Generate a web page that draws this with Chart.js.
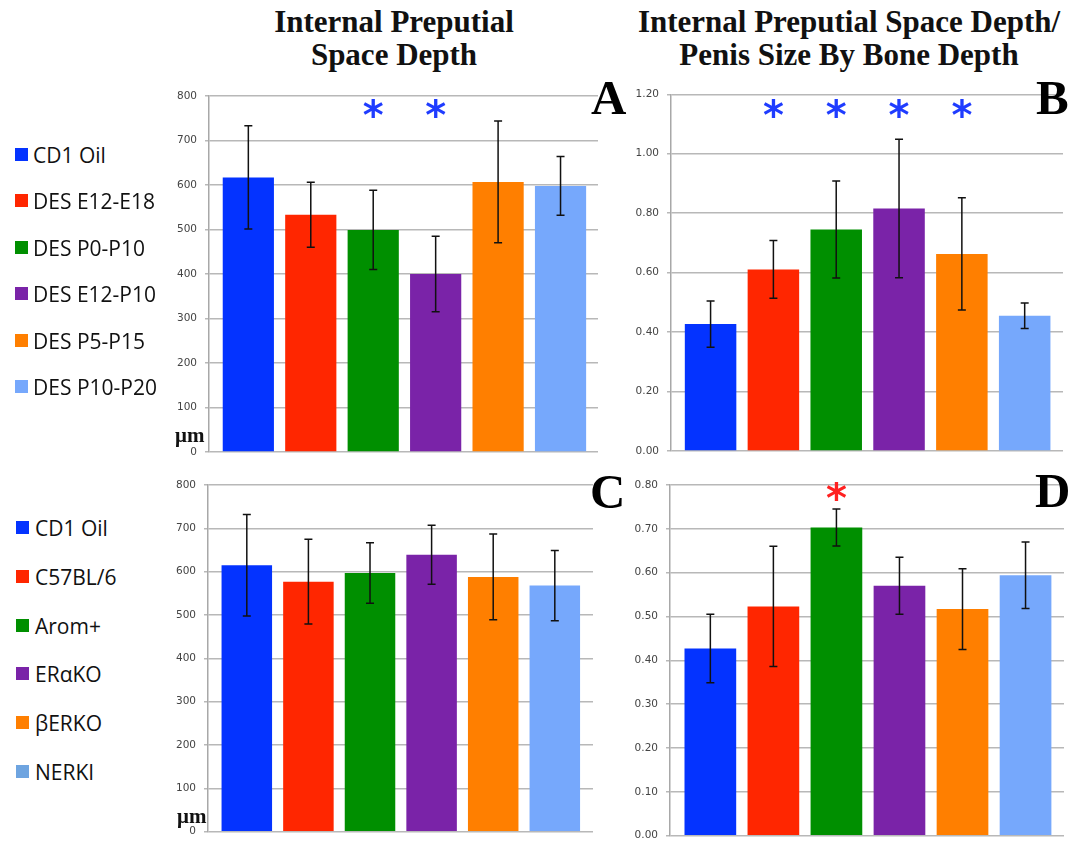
<!DOCTYPE html>
<html>
<head>
<meta charset="utf-8">
<script src="https://cdn.jsdelivr.net/npm/chart.js@4.4.1/dist/chart.umd.min.js"></script>
<style>
  html, body { margin: 0; padding: 0; background: #fff; overflow: hidden; }
  #page { position: relative; width: 1074px; height: 846px; }
  canvas { position: absolute; }
  .title { position: absolute; font-family: "Liberation Serif", serif; font-weight: bold;
           font-size: 31px; line-height: 33px; text-align: center; color: #111; }
  .letter { position: absolute; font-family: "Liberation Serif", serif; font-weight: bold;
            font-size: 49px; line-height: 49px; color: #000; }
  .unit { position: absolute; font-family: "Liberation Serif", serif; font-weight: bold;
          font-size: 21px; line-height: 21px; color: #111; }
  .leg { position: absolute; height: 24px; line-height: 24px; font-family: "Open Sans", sans-serif;
         font-size: 21px; color: #111; white-space: nowrap; }
  .leg i { position: absolute; top: 5px; width: 13px; height: 13px; }
</style>
</head>
<body>
<div id="page">
  <div class="title" style="left:194px; top:5px; width:400px;">Internal Preputial<br>Space Depth</div>
  <div class="title" style="left:599px; top:5px; width:500px;">Internal Preputial Space Depth/<br>Penis Size By Bone Depth</div>

  <canvas id="chartA" width="460" height="390" style="left:150px; top:80px;"></canvas>
  <canvas id="chartB" width="460" height="390" style="left:610px; top:80px;"></canvas>
  <canvas id="chartC" width="460" height="376" style="left:150px; top:470px;"></canvas>
  <canvas id="chartD" width="460" height="380" style="left:610px; top:470px;"></canvas>

  <div class="letter" style="left:591px; top:73px;">A</div>
  <div class="letter" style="left:1036px; top:73px;">B</div>
  <div class="letter" style="left:590px; top:467px;">C</div>
  <div class="letter" style="left:1035px; top:466px;">D</div>

  <div class="unit" style="left:175px; top:425px;">μm</div>
  <div class="unit" style="left:177px; top:806px;">μm</div>

  <div id="legendTop"></div>
  <div id="legendBottom"></div>
</div>

<script>
// ─── data
const groupsTop = ['CD1 Oil', 'DES E12-E18', 'DES P0-P10', 'DES E12-P10', 'DES P5-P15', 'DES P10-P20'];
const groupsBottom = ['CD1 Oil', 'C57BL/6', 'Arom+', 'ERαKO', 'βERKO', 'NERKI'];

// A: internal preputial space depth (µm), DES treatments
const depthA = [617, 533, 499, 400, 607, 598];
const depthAErr = [116, 73, 89, 85, 137, 66];
// B: depth / penis size by bone depth, DES treatments
const ratioB = [0.427, 0.611, 0.745, 0.816, 0.663, 0.455];
const ratioBErr = [0.078, 0.097, 0.163, 0.233, 0.189, 0.043];
// C: depth (µm), mouse strains
const depthC = [615, 577, 597, 639, 588, 568];
const depthCErr = [117, 98, 70, 68, 99, 81];
// D: depth / penis size, mouse strains
const ratioD = [0.427, 0.523, 0.703, 0.570, 0.517, 0.594];
const ratioDErr = [0.078, 0.137, 0.042, 0.065, 0.092, 0.076];

// significance markers (bar index) and the height they sit at
const starsA = [2, 3];
const starsB = [1, 2, 3, 4];
const starsD = [2];
const starHeightA = 767;
const starHeightB = 1.143;
const starHeightD = 0.78;

// y axis ranges / tick steps
const depthMax = 800, depthStep = 100;
const ratioBMax = 1.2, ratioBStep = 0.2;
const ratioDMax = 0.8, ratioDStep = 0.1;

const barColors = ['#0433ff', '#ff2600', '#008f00', '#7a23a8', '#ff7f00', '#76a8fc'];
const legendColorsBottom = ['#0433ff', '#ff2600', '#008f00', '#7a23a8', '#ff7f00', '#6ea4e0'];

// ─── legends
function buildLegend(el, names, colors, x0, y0, gap, textX) {
  names.forEach((name, i) => {
    const item = document.createElement('div');
    item.className = 'leg';
    item.style.left = x0 + 'px';
    item.style.top = (y0 + gap * i - 12) + 'px';
    item.innerHTML = `<i style="left:0;background:${colors[i]}"></i><span style="margin-left:${textX}px">${name}</span>`;
    el.appendChild(item);
  });
}
buildLegend(document.getElementById('legendTop'), groupsTop, barColors, 15, 155, 46.4, 18);
buildLegend(document.getElementById('legendBottom'), groupsBottom, legendColorsBottom, 16, 528, 48.8, 19);

// ─── panels
function makePanel(id, cfg) {
  const overlay = {
    id: 'overlay-' + id,
    afterDatasetsDraw(chart) {
      const { ctx, scales: { x, y } } = chart;
      ctx.save();
      ctx.strokeStyle = '#111';
      ctx.lineWidth = 1.5;
      cfg.values.forEach((v, i) => {
        const px = x.getPixelForValue(i);
        const top = y.getPixelForValue(v + cfg.errors[i]);
        const bot = y.getPixelForValue(v - cfg.errors[i]);
        ctx.beginPath();
        ctx.moveTo(px, top); ctx.lineTo(px, bot);
        ctx.moveTo(px - 4, top); ctx.lineTo(px + 4, top);
        ctx.moveTo(px - 4, bot); ctx.lineTo(px + 4, bot);
        ctx.stroke();
      });
      ctx.fillStyle = cfg.starColor;
      ctx.font = 'bold 40px "DejaVu Sans"';
      ctx.textAlign = 'center';
      ctx.textBaseline = 'alphabetic';
      (cfg.stars || []).forEach(i => {
        ctx.fillText('*', x.getPixelForValue(i), y.getPixelForValue(cfg.starHeight) + 18);
      });
      ctx.restore();
    }
  };

  return new Chart(document.getElementById(id), {
    type: 'bar',
    data: {
      datasets: [{
        data: cfg.values.map((v, i) => ({ x: i, y: v })),
        backgroundColor: barColors,
        borderWidth: 0,
        barPercentage: 0.82,
        categoryPercentage: 1
      }]
    },
    options: {
      responsive: false,
      animation: false,
      devicePixelRatio: 1,
      layout: { padding: cfg.padding },
      plugins: { legend: { display: false }, tooltip: { enabled: false } },
      scales: {
        x: {
          type: 'linear', display: false, min: cfg.xMin, max: cfg.xMax,
          offset: false, grid: { offset: false },
          // one tick per bar so the bar width follows the bar spacing
          afterBuildTicks: (scale) => { scale.ticks = cfg.values.map((v, i) => ({ value: i })); }
        },
        y: {
          min: 0,
          max: cfg.yMax,
          afterFit: (scale) => { scale.width = cfg.axisWidth; },
          ticks: {
            stepSize: cfg.step,
            callback: (v) => Number(v).toFixed(cfg.decimals),
            font: { family: 'DejaVu Sans', size: 10.5 },
            color: '#444',
            padding: 8
          },
          grid: { color: '#b8b8b8', lineWidth: 1.5, tickLength: 4 },
          border: { color: '#a8a8a8', width: 1.5 }
        }
      }
    },
    plugins: [overlay]
  });
}

makePanel('chartA', {
  values: depthA, errors: depthAErr, yMax: depthMax, step: depthStep, decimals: 0,
  axisWidth: 59, padding: { top: 16, right: 12, bottom: 18, left: 0 }, xMin: -0.63, xMax: 5.6,
  stars: starsA, starHeight: starHeightA, starColor: '#1f3cff'
});
makePanel('chartB', {
  values: ratioB, errors: ratioBErr, yMax: ratioBMax, step: ratioBStep, decimals: 2,
  axisWidth: 61, padding: { top: 13, right: 7, bottom: 19, left: 0 }, xMin: -0.63, xMax: 5.61,
  stars: starsB, starHeight: starHeightB, starColor: '#1f3cff'
});
makePanel('chartC', {
  values: depthC, errors: depthCErr, yMax: depthMax, step: depthStep, decimals: 0,
  axisWidth: 58, padding: { top: 15, right: 17, bottom: 8, left: 0 }, xMin: -0.63, xMax: 5.62,
  stars: [], starHeight: 0, starColor: '#000'
});
makePanel('chartD', {
  values: ratioD, errors: ratioDErr, yMax: ratioDMax, step: ratioDStep, decimals: 2,
  axisWidth: 60, padding: { top: 15, right: 6, bottom: 9, left: 0 }, xMin: -0.64, xMax: 5.61,
  stars: starsD, starHeight: starHeightD, starColor: '#ff2020'
});
</script>
</body>
</html>
